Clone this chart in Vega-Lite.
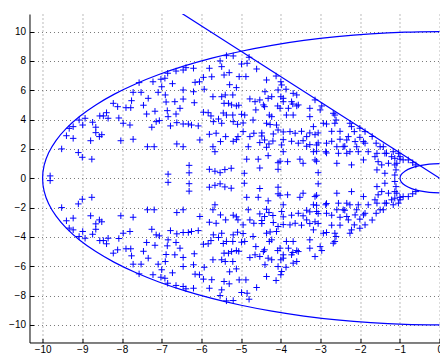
{
  "$schema": "https://vega.github.io/schema/vega-lite/v6.json",
  "width": 410.2,
  "height": 328.5,
  "autosize": {"type": "none"},
  "padding": {"left": 29.5, "top": 14, "right": 0, "bottom": 10},
  "background": "#ffffff",
  "config": {
    "view": {"stroke": null},
    "axis": {
      "domainColor": "#000000", "domainWidth": 1,
      "tickColor": "#000000", "tickSize": -4, "tickWidth": 1,
      "labelPadding": 8, "labelFont": "Liberation Sans", "labelFontSize": 10, "labelColor": "#000000",
      "labelFlush": false, "labelOverlap": false,
      "grid": true, "gridColor": "#777777", "gridDash": [1, 3], "gridOpacity": 1, "gridWidth": 1
    }
  },
  "datasets": {
    "pts": [
{"x":-9.81,"y":0.16},{"x":-9.81,"y":-0.16},{"x":-9.52,"y":2.0},{"x":-9.52,"y":-2.0},{"x":-9.40,"y":2.9},{"x":-9.40,"y":-2.9},{"x":-9.23,"y":2.72},{"x":-9.23,"y":-2.72},{"x":-9.33,"y":3.4},{"x":-9.33,"y":-3.4},{"x":-9.23,"y":3.52},{"x":-9.23,"y":-3.52},{"x":-9.08,"y":3.97},{"x":-9.08,"y":-3.97},{"x":-8.99,"y":3.63},{"x":-8.99,"y":-3.63},{"x":-8.93,"y":4.09},{"x":-8.93,"y":-4.09},{"x":-9.10,"y":1.75},{"x":-9.10,"y":-1.75},
{"x":-9.0,"y":1.43},{"x":-9.0,"y":-1.43},{"x":-8.76,"y":1.3},{"x":-8.76,"y":-1.3},{"x":-8.79,"y":2.56},{"x":-8.79,"y":-2.56},{"x":-8.74,"y":3.82},{"x":-8.74,"y":-3.82},{"x":-8.66,"y":3.48},{"x":-8.66,"y":-3.48},{"x":-8.66,"y":3.11},{"x":-8.66,"y":-3.11},{"x":-8.57,"y":2.84},{"x":-8.57,"y":-2.84},{"x":-8.51,"y":2.97},{"x":-8.51,"y":-2.97},{"x":-8.56,"y":4.25},{"x":-8.56,"y":-4.25},{"x":-8.47,"y":4.25},{"x":-8.47,"y":-4.25},
{"x":-8.39,"y":4.47},{"x":-8.39,"y":-4.47},{"x":-8.35,"y":4.09},{"x":-8.35,"y":-4.09},{"x":-8.22,"y":5.11},{"x":-8.22,"y":-5.11},{"x":-8.11,"y":4.88},{"x":-8.11,"y":-4.88},{"x":-8.08,"y":4.11},{"x":-8.08,"y":-4.11},{"x":-8.03,"y":2.56},{"x":-8.03,"y":-2.56},{"x":-7.97,"y":3.75},{"x":-7.97,"y":-3.75},{"x":-7.90,"y":4.81},{"x":-7.90,"y":-4.81},{"x":-7.78,"y":4.81},{"x":-7.78,"y":-4.81},{"x":-7.76,"y":5.29},{"x":-7.76,"y":-5.29},
{"x":-7.80,"y":3.63},{"x":-7.80,"y":-3.63},{"x":-7.72,"y":2.66},{"x":-7.72,"y":-2.66},{"x":-7.57,"y":6.52},{"x":-7.57,"y":-6.52},{"x":-7.72,"y":5.86},{"x":-7.72,"y":-5.86},{"x":-7.52,"y":5.86},{"x":-7.52,"y":-5.86},{"x":-7.46,"y":4.98},{"x":-7.46,"y":-4.98},{"x":-7.34,"y":5.45},{"x":-7.34,"y":-5.45},{"x":-7.38,"y":4.38},{"x":-7.38,"y":-4.38},{"x":-7.17,"y":4.57},{"x":-7.17,"y":-4.57},{"x":-7.25,"y":3.48},{"x":-7.25,"y":-3.48},
{"x":-7.14,"y":3.86},{"x":-7.14,"y":-3.86},{"x":-7.06,"y":3.93},{"x":-7.06,"y":-3.93},{"x":-7.36,"y":2.15},{"x":-7.36,"y":-2.15},{"x":-7.19,"y":2.15},{"x":-7.19,"y":-2.15},{"x":-7.22,"y":6.58},{"x":-7.22,"y":-6.58},{"x":-7.09,"y":5.86},{"x":-7.09,"y":-5.86},{"x":-7.02,"y":6.75},{"x":-7.02,"y":-6.75},{"x":-7.00,"y":6.24},{"x":-7.00,"y":-6.24},{"x":-6.91,"y":5.68},{"x":-6.91,"y":-5.68},{"x":-6.89,"y":5.2},{"x":-6.89,"y":-5.2},
{"x":-6.86,"y":4.61},{"x":-6.86,"y":-4.61},{"x":-6.84,"y":4.2},{"x":-6.84,"y":-4.2},{"x":-6.85,"y":7.16},{"x":-6.85,"y":-7.16},{"x":-6.92,"y":6.82},{"x":-6.92,"y":-6.82},{"x":-6.84,"y":0.28},{"x":-6.84,"y":-0.28},{"x":-6.64,"y":7.31},{"x":-6.64,"y":-7.31},{"x":-6.46,"y":7.38},{"x":-6.46,"y":-7.38},{"x":-6.39,"y":7.54},{"x":-6.39,"y":-7.54},{"x":-6.20,"y":7.5},{"x":-6.20,"y":-7.5},{"x":-6.73,"y":6.45},{"x":-6.73,"y":-6.45},
{"x":-6.16,"y":6.54},{"x":-6.16,"y":-6.54},{"x":-6.05,"y":6.58},{"x":-6.05,"y":-6.58},{"x":-5.95,"y":6.88},{"x":-5.95,"y":-6.88},{"x":-5.74,"y":6.92},{"x":-5.74,"y":-6.92},{"x":-5.80,"y":7.5},{"x":-5.80,"y":-7.5},{"x":-5.53,"y":8.0},{"x":-5.53,"y":-8.0},{"x":-5.49,"y":7.61},{"x":-5.49,"y":-7.61},{"x":-5.30,"y":7.2},{"x":-5.30,"y":-7.2},{"x":-5.43,"y":7.04},{"x":-5.43,"y":-7.04},{"x":-5.20,"y":8.34},{"x":-5.20,"y":-8.34},
{"x":-5.37,"y":8.36},{"x":-5.37,"y":-8.36},{"x":-4.99,"y":7.79},{"x":-4.99,"y":-7.79},{"x":-5.05,"y":6.93},{"x":-5.05,"y":-6.93},{"x":-4.88,"y":6.93},{"x":-4.88,"y":-6.93},{"x":-4.85,"y":7.84},{"x":-4.85,"y":-7.84},{"x":-4.80,"y":8.25},{"x":-4.80,"y":-8.25},{"x":-4.61,"y":7.45},{"x":-4.61,"y":-7.45},{"x":-4.36,"y":6.7},{"x":-4.36,"y":-6.7},{"x":-4.12,"y":6.97},{"x":-4.12,"y":-6.97},{"x":-4.00,"y":6.58},{"x":-4.00,"y":-6.58},
{"x":-4.07,"y":6.02},{"x":-4.07,"y":-6.02},{"x":-3.87,"y":6.07},{"x":-3.87,"y":-6.07},{"x":-3.69,"y":5.79},{"x":-3.69,"y":-5.79},{"x":-5.29,"y":6.38},{"x":-5.29,"y":-6.38},{"x":-5.12,"y":6.18},{"x":-5.12,"y":-6.18},{"x":-5.21,"y":5.68},{"x":-5.21,"y":-5.68},{"x":-5.40,"y":5.68},{"x":-5.40,"y":-5.68},{"x":-5.49,"y":5.56},{"x":-5.49,"y":-5.56},{"x":-5.32,"y":5.11},{"x":-5.32,"y":-5.11},{"x":-5.24,"y":5.0},{"x":-5.24,"y":-5.0},
{"x":-5.12,"y":4.93},{"x":-5.12,"y":-4.93},{"x":-5.06,"y":4.98},{"x":-5.06,"y":-4.98},{"x":-5.43,"y":5.11},{"x":-5.43,"y":-5.11},{"x":-5.93,"y":6.07},{"x":-5.93,"y":-6.07},{"x":-5.71,"y":5.56},{"x":-5.71,"y":-5.56},{"x":-6.20,"y":5.9},{"x":-6.20,"y":-5.9},{"x":-6.46,"y":6.02},{"x":-6.46,"y":-6.02},{"x":-6.18,"y":5.15},{"x":-6.18,"y":-5.15},{"x":-6.67,"y":5.22},{"x":-6.67,"y":-5.22},{"x":-6.46,"y":5.4},{"x":-6.46,"y":-5.4},
{"x":-6.54,"y":4.77},{"x":-6.54,"y":-4.77},{"x":-6.64,"y":4.38},{"x":-6.64,"y":-4.38},{"x":-6.62,"y":3.79},{"x":-6.62,"y":-3.79},{"x":-6.46,"y":3.7},{"x":-6.46,"y":-3.7},{"x":-6.33,"y":3.7},{"x":-6.33,"y":-3.7},{"x":-6.25,"y":3.63},{"x":-6.25,"y":-3.63},{"x":-6.08,"y":3.57},{"x":-6.08,"y":-3.57},{"x":-6.78,"y":3.57},{"x":-6.78,"y":-3.57},{"x":-6.04,"y":2.61},{"x":-6.04,"y":-2.61},{"x":-5.80,"y":3.0},{"x":-5.80,"y":-3.0},
{"x":-5.63,"y":3.07},{"x":-5.63,"y":-3.07},{"x":-5.71,"y":2.15},{"x":-5.71,"y":-2.15},{"x":-5.66,"y":1.81},{"x":-5.66,"y":-1.81},{"x":-5.52,"y":2.5},{"x":-5.52,"y":-2.5},{"x":-5.39,"y":2.84},{"x":-5.39,"y":-2.84},{"x":-6.62,"y":2.34},{"x":-6.62,"y":-2.34},{"x":-6.46,"y":2.15},{"x":-6.46,"y":-2.15},{"x":-5.08,"y":2.84},{"x":-5.08,"y":-2.84},{"x":-4.95,"y":3.18},{"x":-4.95,"y":-3.18},{"x":-5.95,"y":4.5},{"x":-5.95,"y":-4.5},
{"x":-5.83,"y":4.47},{"x":-5.83,"y":-4.47},{"x":-5.76,"y":4.25},{"x":-5.76,"y":-4.25},{"x":-5.70,"y":3.86},{"x":-5.70,"y":-3.86},{"x":-5.57,"y":4.04},{"x":-5.57,"y":-4.04},{"x":-5.49,"y":3.75},{"x":-5.49,"y":-3.75},{"x":-5.37,"y":4.31},{"x":-5.37,"y":-4.31},{"x":-5.21,"y":4.31},{"x":-5.21,"y":-4.31},{"x":-5.20,"y":3.86},{"x":-5.20,"y":-3.86},{"x":-4.99,"y":4.36},{"x":-4.99,"y":-4.36},{"x":-4.91,"y":4.31},{"x":-4.91,"y":-4.31},
{"x":-5.09,"y":3.68},{"x":-5.09,"y":-3.68},{"x":-4.70,"y":3.97},{"x":-4.70,"y":-3.97},{"x":-4.63,"y":4.66},{"x":-4.63,"y":-4.66},{"x":-4.78,"y":2.84},{"x":-4.78,"y":-2.84},{"x":-4.68,"y":3.07},{"x":-4.68,"y":-3.07},{"x":-4.48,"y":2.88},{"x":-4.48,"y":-2.88},{"x":-4.36,"y":3.75},{"x":-4.36,"y":-3.75},{"x":-4.29,"y":4.31},{"x":-4.29,"y":-4.31},{"x":-4.11,"y":3.63},{"x":-4.11,"y":-3.63},{"x":-4.07,"y":3.29},{"x":-4.07,"y":-3.29},
{"x":-3.77,"y":3.18},{"x":-3.77,"y":-3.18},{"x":-4.78,"y":5.41},{"x":-4.78,"y":-5.41},{"x":-4.65,"y":5.22},{"x":-4.65,"y":-5.22},{"x":-4.53,"y":5.34},{"x":-4.53,"y":-5.34},{"x":-4.32,"y":5.45},{"x":-4.32,"y":-5.45},{"x":-4.23,"y":5.56},{"x":-4.23,"y":-5.56},{"x":-4.00,"y":5.56},{"x":-4.00,"y":-5.56},{"x":-3.94,"y":5.45},{"x":-3.94,"y":-5.45},{"x":-3.70,"y":5.06},{"x":-3.70,"y":-5.06},{"x":-4.41,"y":4.88},{"x":-4.41,"y":-4.88},
{"x":-4.08,"y":4.93},{"x":-4.08,"y":-4.93},{"x":-3.81,"y":4.77},{"x":-3.81,"y":-4.77},{"x":-3.60,"y":5.68},{"x":-3.60,"y":-5.68},{"x":-6.31,"y":0.37},{"x":-6.31,"y":-0.37},{"x":-6.31,"y":0.88},{"x":-6.31,"y":-0.88},{"x":-5.80,"y":0.61},{"x":-5.80,"y":-0.61},{"x":-5.53,"y":0.38},{"x":-5.53,"y":-0.38},{"x":-5.25,"y":0.68},{"x":-5.25,"y":-0.68},{"x":-4.92,"y":0.34},{"x":-4.92,"y":-0.34},{"x":-4.86,"y":1.3},{"x":-4.86,"y":-1.3},
{"x":-4.07,"y":0.61},{"x":-4.07,"y":-0.61},{"x":-3.83,"y":1.13},{"x":-3.83,"y":-1.13},{"x":-4.57,"y":1.3},{"x":-4.57,"y":-1.3},{"x":-4.32,"y":1.54},{"x":-4.32,"y":-1.54},{"x":-4.36,"y":2.11},{"x":-4.36,"y":-2.11},{"x":-4.07,"y":1.06},{"x":-4.07,"y":-1.06},{"x":-4.82,"y":2.15},{"x":-4.82,"y":-2.15},{"x":-4.53,"y":2.43},{"x":-4.53,"y":-2.43},{"x":-4.41,"y":2.61},{"x":-4.41,"y":-2.61},{"x":-4.20,"y":2.54},{"x":-4.20,"y":-2.54},
{"x":-4.30,"y":2.34},{"x":-4.30,"y":-2.34},{"x":-3.98,"y":2.27},{"x":-3.98,"y":-2.27},{"x":-3.94,"y":1.81},{"x":-3.94,"y":-1.81},{"x":-5.45,"y":4.45},{"x":-5.45,"y":-4.45},{"x":-5.20,"y":2.52},{"x":-5.20,"y":-2.52},{"x":-5.12,"y":2.63},{"x":-5.12,"y":-2.63},{"x":-4.95,"y":3.77},{"x":-4.95,"y":-3.77},{"x":-4.53,"y":0.7},{"x":-4.53,"y":-0.7},{"x":-5.66,"y":0.48},{"x":-5.66,"y":-0.48},{"x":-5.41,"y":0.59},{"x":-5.41,"y":-0.59},
{"x":-3.98,"y":6.36},{"x":-3.98,"y":-6.36},{"x":-4.40,"y":5.9},{"x":-4.40,"y":-5.9},{"x":-4.44,"y":5.0},{"x":-4.44,"y":-5.0},{"x":-3.94,"y":5.22},{"x":-3.94,"y":-5.22},{"x":-3.56,"y":5.0},{"x":-3.56,"y":-5.0},{"x":-4.02,"y":4.77},{"x":-4.02,"y":-4.77},{"x":-3.27,"y":4.77},{"x":-3.27,"y":-4.77},{"x":-3.01,"y":4.66},{"x":-3.01,"y":-4.66},{"x":-4.23,"y":4.2},{"x":-4.23,"y":-4.2},{"x":-3.86,"y":4.31},{"x":-3.86,"y":-4.31},
{"x":-3.27,"y":4.2},{"x":-3.27,"y":-4.2},{"x":-2.68,"y":4.43},{"x":-2.68,"y":-4.43},{"x":-3.73,"y":5.22},{"x":-3.73,"y":-5.22},{"x":-3.60,"y":4.93},{"x":-3.60,"y":-4.93},{"x":-3.69,"y":4.31},{"x":-3.69,"y":-4.31},{"x":-3.14,"y":5.34},{"x":-3.14,"y":-5.34},{"x":-2.97,"y":4.93},{"x":-2.97,"y":-4.93},{"x":-3.18,"y":3.52},{"x":-3.18,"y":-3.52},{"x":-2.93,"y":3.75},{"x":-2.93,"y":-3.75},{"x":-2.64,"y":4.31},{"x":-2.64,"y":-4.31},
{"x":-2.61,"y":3.97},{"x":-2.61,"y":-3.97},{"x":-2.64,"y":3.75},{"x":-2.64,"y":-3.75},{"x":-2.22,"y":3.52},{"x":-2.22,"y":-3.52},{"x":-2.30,"y":2.84},{"x":-2.30,"y":-2.84},{"x":-2.51,"y":2.66},{"x":-2.51,"y":-2.66},{"x":-2.43,"y":2.15},{"x":-2.43,"y":-2.15},{"x":-2.59,"y":2.15},{"x":-2.59,"y":-2.15},{"x":-2.55,"y":1.7},{"x":-2.55,"y":-1.7},{"x":-2.34,"y":1.7},{"x":-2.34,"y":-1.7},{"x":-2.22,"y":0.91},{"x":-2.22,"y":-0.91},
{"x":-2.59,"y":1.02},{"x":-2.59,"y":-1.02},{"x":-2.85,"y":2.39},{"x":-2.85,"y":-2.39},{"x":-2.87,"y":1.81},{"x":-2.87,"y":-1.81},{"x":-3.10,"y":2.27},{"x":-3.10,"y":-2.27},{"x":-3.18,"y":1.81},{"x":-3.18,"y":-1.81},{"x":-3.14,"y":1.25},{"x":-3.14,"y":-1.25},{"x":-3.06,"y":0.38},{"x":-3.06,"y":-0.38},{"x":-3.44,"y":1.02},{"x":-3.44,"y":-1.02},{"x":-3.52,"y":1.3},{"x":-3.52,"y":-1.3},{"x":-3.35,"y":2.84},{"x":-3.35,"y":-2.84},
{"x":-3.56,"y":2.39},{"x":-3.56,"y":-2.39},{"x":-3.64,"y":3.07},{"x":-3.64,"y":-3.07},{"x":-2.01,"y":2.79},{"x":-2.01,"y":-2.79},{"x":-1.92,"y":2.5},{"x":-1.92,"y":-2.5},{"x":-2.09,"y":2.15},{"x":-2.09,"y":-2.15},{"x":-1.80,"y":1.81},{"x":-1.80,"y":-1.81},{"x":-1.60,"y":2.39},{"x":-1.60,"y":-2.39},{"x":-1.50,"y":2.15},{"x":-1.50,"y":-2.15},{"x":-1.63,"y":1.47},{"x":-1.63,"y":-1.47},{"x":-1.55,"y":1.13},{"x":-1.55,"y":-1.13},
{"x":-1.34,"y":1.7},{"x":-1.34,"y":-1.7},{"x":-1.29,"y":1.02},{"x":-1.29,"y":-1.02},{"x":-1.38,"y":0.34},{"x":-1.38,"y":-0.34},{"x":-1.21,"y":1.47},{"x":-1.21,"y":-1.47},{"x":-1.13,"y":0.91},{"x":-1.13,"y":-0.91},{"x":-1.10,"y":0.57},{"x":-1.10,"y":-0.57},{"x":-1.04,"y":1.7},{"x":-1.04,"y":-1.7},{"x":-1.0,"y":1.3},{"x":-1.0,"y":-1.3},{"x":-0.79,"y":1.25},{"x":-0.79,"y":-1.25},{"x":-0.68,"y":1.06},{"x":-0.68,"y":-1.06},
{"x":-0.60,"y":0.91},{"x":-0.60,"y":-0.91},{"x":-2.15,"y":3.18},{"x":-2.15,"y":-3.18},{"x":-1.88,"y":3.18},{"x":-1.88,"y":-3.18},{"x":-4.27,"y":3.66},{"x":-4.27,"y":-3.66},{"x":-4.48,"y":3.09},{"x":-4.48,"y":-3.09},{"x":-4.19,"y":3.02},{"x":-4.19,"y":-3.02},{"x":-3.94,"y":3.16},{"x":-3.94,"y":-3.16},{"x":-3.48,"y":3.2},{"x":-3.48,"y":-3.2},{"x":-3.27,"y":3.09},{"x":-3.27,"y":-3.09},{"x":-3.14,"y":2.97},{"x":-3.14,"y":-2.97},
{"x":-3.06,"y":3.09},{"x":-3.06,"y":-3.09},{"x":-2.85,"y":3.7},{"x":-2.85,"y":-3.7},{"x":-2.72,"y":3.2},{"x":-2.72,"y":-3.2},{"x":-2.51,"y":3.2},{"x":-2.51,"y":-3.2},{"x":-3.94,"y":2.63},{"x":-3.94,"y":-2.63},{"x":-3.73,"y":2.52},{"x":-3.73,"y":-2.52},{"x":-3.44,"y":2.56},{"x":-3.44,"y":-2.56},{"x":-3.27,"y":2.29},{"x":-3.27,"y":-2.29},{"x":-3.06,"y":2.41},{"x":-3.06,"y":-2.41},{"x":-2.72,"y":2.52},{"x":-2.72,"y":-2.52},
{"x":-2.39,"y":2.18},{"x":-2.39,"y":-2.18},{"x":-3.35,"y":2.18},{"x":-3.35,"y":-2.18},{"x":-3.10,"y":1.84},{"x":-3.10,"y":-1.84},{"x":-2.85,"y":1.72},{"x":-2.85,"y":-1.72},{"x":-3.10,"y":1.16},{"x":-3.10,"y":-1.16},{"x":-4.02,"y":1.16},{"x":-4.02,"y":-1.16},{"x":-2.26,"y":3.75},{"x":-2.26,"y":-3.75},{"x":-2.01,"y":3.41},{"x":-2.01,"y":-3.41},{"x":-2.34,"y":2.61},{"x":-2.34,"y":-2.61},{"x":-2.13,"y":2.5},{"x":-2.13,"y":-2.5},
{"x":-1.88,"y":2.39},{"x":-1.88,"y":-2.39},{"x":-2.26,"y":1.81},{"x":-2.26,"y":-1.81},{"x":-2.05,"y":1.81},{"x":-2.05,"y":-1.81},{"x":-1.92,"y":1.25},{"x":-1.92,"y":-1.25},{"x":-1.58,"y":1.7},{"x":-1.58,"y":-1.7},{"x":-1.42,"y":2.15},{"x":-1.42,"y":-2.15},{"x":-1.38,"y":1.7},{"x":-1.38,"y":-1.7},{"x":-1.46,"y":0.91},{"x":-1.46,"y":-0.91},{"x":-1.58,"y":0.57},{"x":-1.58,"y":-0.57},{"x":-1.17,"y":1.81},{"x":-1.17,"y":-1.81},
{"x":-1.13,"y":1.36},{"x":-1.13,"y":-1.36},{"x":-1.08,"y":1.02},{"x":-1.08,"y":-1.02},{"x":-1.13,"y":0.22},{"x":-1.13,"y":-0.22},{"x":-0.92,"y":1.25},{"x":-0.92,"y":-1.25},{"x":-1.70,"y":2.85},{"x":-1.70,"y":-2.85},{"x":-1.0,"y":1.47},{"x":-1.0,"y":-1.47}
    ],
    "curves": [
{"c":"big","o":0,"x":0,"y":10},{"c":"big","o":1,"x":-0.872,"y":9.962},{"c":"big","o":2,"x":-1.736,"y":9.848},{"c":"big","o":3,"x":-2.588,"y":9.659},{"c":"big","o":4,"x":-3.42,"y":9.397},{"c":"big","o":5,"x":-4.226,"y":9.063},{"c":"big","o":6,"x":-5,"y":8.66},{"c":"big","o":7,"x":-5.736,"y":8.192},{"c":"big","o":8,"x":-6.428,"y":7.66},{"c":"big","o":9,"x":-7.071,"y":7.071},{"c":"big","o":10,"x":-7.66,"y":6.428},{"c":"big","o":11,"x":-8.192,"y":5.736},{"c":"big","o":12,"x":-8.66,"y":5},{"c":"big","o":13,"x":-9.063,"y":4.226},{"c":"big","o":14,"x":-9.397,"y":3.42},{"c":"big","o":15,"x":-9.659,"y":2.588},{"c":"big","o":16,"x":-9.848,"y":1.736},{"c":"big","o":17,"x":-9.962,"y":0.872},{"c":"big","o":18,"x":-10,"y":0},
{"c":"big","o":19,"x":-9.962,"y":-0.872},{"c":"big","o":20,"x":-9.848,"y":-1.736},{"c":"big","o":21,"x":-9.659,"y":-2.588},{"c":"big","o":22,"x":-9.397,"y":-3.42},{"c":"big","o":23,"x":-9.063,"y":-4.226},{"c":"big","o":24,"x":-8.66,"y":-5},{"c":"big","o":25,"x":-8.192,"y":-5.736},{"c":"big","o":26,"x":-7.66,"y":-6.428},{"c":"big","o":27,"x":-7.071,"y":-7.071},{"c":"big","o":28,"x":-6.428,"y":-7.66},{"c":"big","o":29,"x":-5.736,"y":-8.192},{"c":"big","o":30,"x":-5,"y":-8.66},{"c":"big","o":31,"x":-4.226,"y":-9.063},{"c":"big","o":32,"x":-3.42,"y":-9.397},{"c":"big","o":33,"x":-2.588,"y":-9.659},{"c":"big","o":34,"x":-1.736,"y":-9.848},{"c":"big","o":35,"x":-0.872,"y":-9.962},{"c":"big","o":36,"x":0,"y":-10},
{"c":"small","o":0,"x":0,"y":1},{"c":"small","o":1,"x":-0.259,"y":0.966},{"c":"small","o":2,"x":-0.5,"y":0.866},{"c":"small","o":3,"x":-0.707,"y":0.707},{"c":"small","o":4,"x":-0.866,"y":0.5},{"c":"small","o":5,"x":-0.966,"y":0.259},{"c":"small","o":6,"x":-1,"y":0},{"c":"small","o":7,"x":-0.966,"y":-0.259},{"c":"small","o":8,"x":-0.866,"y":-0.5},{"c":"small","o":9,"x":-0.707,"y":-0.707},{"c":"small","o":10,"x":-0.5,"y":-0.866},{"c":"small","o":11,"x":-0.259,"y":-0.966},{"c":"small","o":12,"x":0,"y":-1},
{"c":"ray","o":0,"x":0,"y":0},{"c":"ray","o":1,"x":-6.7,"y":11.6}
    ]
  },
  "layer": [
    {
      "data": {"name": "curves"},
      "mark": {"type": "line", "clip": true, "color": "#0000ff", "strokeWidth": 1.2, "interpolate": "catmull-rom"},
      "encoding": {
        "x": {"field": "x", "type": "quantitative", "scale": {"domain": [-10.33, 0], "nice": false, "zero": false},
              "axis": {"title": null, "values": [-10,-9,-8,-7,-6,-5,-4,-3,-2,-1,0], "tickCount": 12, "labelOverlap": false, "labelFlush": false, "labelPadding": 6}},
        "y": {"field": "y", "type": "quantitative", "scale": {"domain": [-11.2, 11.2], "nice": false, "zero": false},
              "axis": {"title": null, "values": [-10,-8,-6,-4,-2,0,2,4,6,8,10], "tickCount": 12, "labelOverlap": false, "labelFlush": false, "labelBound": false}},
        "detail": {"field": "c"},
        "order": {"field": "o", "type": "quantitative"}
      }
    },
    {
      "data": {"name": "pts"},
      "mark": {"type": "point", "shape": "M-1,0H1M0,-1V1", "size": 42, "filled": false, "stroke": "#0000ff", "strokeWidth": 1, "opacity": 1, "clip": true},
      "encoding": {
        "x": {"field": "x", "type": "quantitative"},
        "y": {"field": "y", "type": "quantitative"}
      }
    }
  ]
}
